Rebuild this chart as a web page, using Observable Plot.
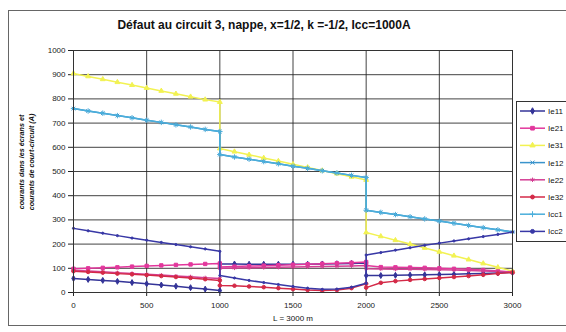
<!DOCTYPE html>
<html><head><meta charset="utf-8">
<script src="https://cdn.jsdelivr.net/npm/d3@7"></script>
<script src="https://cdn.jsdelivr.net/npm/@observablehq/plot@0.6"></script>
<style>
body{margin:0;background:#fff;font-family:"Liberation Sans",Arial,sans-serif;}
#wrap{position:relative;width:566px;height:332px;overflow:hidden;background:#fff}
#frame{position:absolute;left:8px;top:10px;width:600px;height:316px;border:1px solid #666;box-sizing:border-box}
#title{position:absolute;left:0;width:528px;top:18px;text-align:center;font-weight:bold;font-size:12px;color:#111}
#xlab{position:absolute;left:243px;width:100px;top:314px;text-align:center;font-size:8px;color:#111}
#ylab{position:absolute;left:27px;top:162px;width:0;height:0}
#ylab div{position:absolute;transform:translate(-50%,-50%) rotate(-90deg);white-space:nowrap;font-size:7.2px;font-weight:bold;font-style:italic;color:#111;text-align:center;line-height:10px}
#chart{position:absolute;left:0;top:0}
#legend{position:absolute;left:516px;top:101px}
</style>
</head><body>
<div id="wrap">
<div id="frame"></div>
<div id="chart"></div>
<div id="title">Défaut au circuit 3, nappe, x=1/2, k =-1/2, Icc=1000A</div>
<div id="ylab"><div>courants dans les écrans et<br>courants de court-circuit (A)</div></div>
<div id="xlab">L = 3000 m</div>
<div id="legend"></div>
</div>
<script>
// positions along the line (m); duplicates at 1000 and 2000 mark the jumps
const xPos = [0,100,200,300,400,500,600,700,800,900,1000,
              1000,1100,1200,1300,1400,1500,1600,1700,1800,1900,2000,
              2000,2100,2200,2300,2400,2500,2600,2700,2800,2900,3000];
const seriesNames = ["Ie11","Ie21","Ie31","Ie12","Ie22","Ie32","Icc1","Icc2"];
const Ie11 = [58,54,50,46,41,36,31,26,20,14,8,
              118,118,117,117,117,117,117,118,119,120,122,
              70,70,71,72,73,74,75,77,79,81,83];
const Ie21 = [98,100,102,104,107,110,112,114,116,118,120,
              105,107,109,111,113,115,117,119,121,123,126,
              112,105,104,103,102,100,98,96,93,89,84];
const Ie31 = [905,893,881,869,857,845,833,821,809,797,787,
              595,582,569,556,543,530,517,504,491,478,465,
              248,232,216,200,184,168,152,136,120,104,88];
const Ie12 = [760,750,741,731,722,712,703,693,684,674,665,
              570,560,551,541,532,522,513,503,494,484,475,
              340,331,322,313,304,295,286,277,268,259,250];
const Ie22 = [92,89,86,82,79,75,72,68,65,61,58,
              100,101,102,103,104,105,106,107,108,110,112,
              98,97,96,96,95,94,93,91,89,87,85];
const Ie32 = [88,85,82,78,75,72,68,64,60,55,50,
              29,28,25,22,18,14,10,8,10,18,36,
              20,40,47,52,56,60,64,68,73,78,83];
const Icc1 = [760,750,741,731,722,712,703,693,684,674,665,
              570,560,551,541,532,522,513,503,494,484,475,
              340,331,322,313,304,295,286,277,268,259,250];
const Icc2 = [265,255,245,235,225,216,207,198,189,180,170,
              70,60,50,41,33,25,18,13,14,22,38,
              155,165,175,185,195,204,213,222,231,240,250];
const xTicks = [0,500,1000,1500,2000,2500,3000];
const yTicks = [0,100,200,300,400,500,600,700,800,900,1000];

const values = [Ie11,Ie21,Ie31,Ie12,Ie22,Ie32,Icc1,Icc2];
const colors = ["#343498","#e2379c","#f2f252","#3a94cc","#d43f94","#d42a48","#4aaedb","#3838a6"];
const symbols = ["diamond","square","triangle","times","asterisk","circle","plus","circle"];
const filled = [true,true,true,false,false,true,false,true];
const radius = [1.8,1.9,1.8,1.8,1.9,1.8,1.9,1.1];

const rows = seriesNames.flatMap((s,i)=>xPos.map((x,j)=>({series:s,x,y:values[i][j]})));

const marks = [
  Plot.frame({fill:"#fff"}),
  Plot.gridX(xTicks,{stroke:"#222",strokeOpacity:0.85}),
  Plot.gridY(yTicks,{stroke:"#222",strokeOpacity:0.85}),
];
seriesNames.forEach((s,i)=>{
  const d = rows.filter(r=>r.series===s);
  marks.push(Plot.line(d,{x:"x",y:"y",stroke:colors[i],strokeWidth:1.5}));
  marks.push(Plot.dot(d,{x:"x",y:"y",symbol:symbols[i],r:radius[i],
    fill:filled[i]?colors[i]:"none",stroke:colors[i],strokeWidth:1}));
});
marks.push(Plot.frame({stroke:"#333"}));

const chart = Plot.plot({
  width:566,height:332,
  marginLeft:73,marginRight:54,marginTop:50,marginBottom:40,
  style:{background:"transparent",fontFamily:"Liberation Sans, Arial, sans-serif",fontSize:"8px",color:"#222"},
  x:{domain:[0,3000],ticks:xTicks,tickFormat:d=>String(d),label:null,tickSize:4,tickPadding:6},
  y:{domain:[0,1000],ticks:yTicks,tickFormat:d=>String(d),label:null,tickSize:5,tickPadding:3},
  marks
});
document.getElementById("chart").appendChild(chart);

// legend
const lw=60, lh=141;
const svg = d3.select("#legend").append("svg").attr("width",lw).attr("height",lh);
svg.append("rect").attr("x",0.5).attr("y",0.5).attr("width",lw).attr("height",lh-1)
  .attr("fill","#fff").attr("stroke","#333");
const symMap = {diamond:d3.symbolDiamond,square:d3.symbolSquare,triangle:d3.symbolTriangle,
  times:d3.symbolTimes,asterisk:d3.symbolAsterisk,circle:d3.symbolCircle,plus:d3.symbolPlus};
seriesNames.forEach((s,i)=>{
  const y = 10 + i*17.2;
  svg.append("line").attr("x1",4).attr("x2",29).attr("y1",y).attr("y2",y)
    .attr("stroke",colors[i]).attr("stroke-width",1.5);
  svg.append("path").attr("transform",`translate(16.5,${y})`)
    .attr("d",d3.symbol(symMap[symbols[i]], Math.PI*Math.max(radius[i],1.8)**2*1.2)())
    .attr("fill",filled[i]?colors[i]:"none").attr("stroke",colors[i]).attr("stroke-width",1);
  svg.append("text").attr("x",32).attr("y",y+3).text(s)
    .attr("font-size","8px").attr("font-family","Liberation Sans, Arial, sans-serif").attr("fill","#111");
});
</script>
</body></html>
